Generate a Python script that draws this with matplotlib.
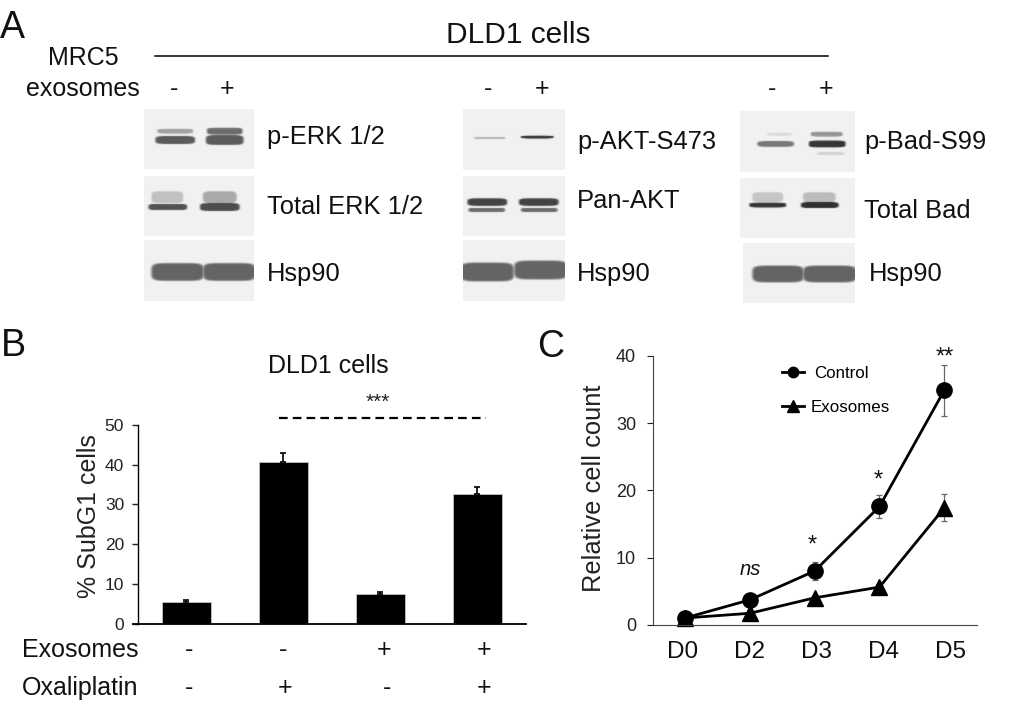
import numpy as np
import matplotlib
matplotlib.use("Agg")
import matplotlib.pyplot as plt

plt.rcParams['font.family'] = ['Liberation Sans', 'DejaVu Sans']

W, H = 1020, 706

# ---------- data ----------
conditions = ['ctrl', 'oxali', 'exo', 'exo+oxali']
subg1 = [5.5, 40.8, 7.4, 32.6]
subg1_err = [0.5, 2.2, 0.6, 1.8]
exosome_signs = ['-', '-', '+', '+']
oxaliplatin_signs = ['-', '+', '-', '+']

days = ['D0', 'D2', 'D3', 'D4', 'D5']
control = [1.0, 3.7, 8.0, 17.6, 34.9]
control_err = [0.2, 0.4, 1.3, 1.7, 3.8]
exosomes = [1.0, 1.7, 4.0, 5.6, 17.4]
exosomes_err = [0.1, 0.2, 0.3, 0.4, 2.0]

# Blot panels: (left, top, right, bottom)
# Bands: (x0, x1, y centre, half height, darkness)
blots = [
    ((144, 109, 254, 169), [(157, 193, 131, 2.5, .33), (155, 195, 140, 4, .62),
                            (207, 243, 131, 3.5, .55), (206, 244, 140, 5, .62)]),
    ((144, 176, 254, 236), [(151, 183, 197, 6, .2), (148, 187, 207, 3.2, .66),
                            (203, 237, 197, 6, .3), (200, 240, 207, 4, .68)]),
    ((144, 240, 254, 301), [(151, 204, 272, 9, .58), (203, 256, 272, 9, .58)]),
    ((463, 109, 565, 170), [(474, 505, 138, 1.2, .25), (521, 554, 137, 1.5, .8)]),
    ((463, 176, 565, 236), [(467, 507, 202, 3.8, .72), (468, 505, 210, 2.2, .55),
                            (519, 559, 202, 3.8, .72), (521, 558, 210, 2.2, .55)]),
    ((463, 240, 565, 301), [(460, 514, 272, 9.5, .58), (514, 568, 270, 9.5, .58)]),
    ((740, 111, 855, 172), [(767, 792, 134, 1.5, .1), (757, 794, 144, 2.8, .5),
                            (811, 843, 134, 2.5, .38), (809, 846, 144, 3.5, .78),
                            (817, 845, 154, 1.5, .13)]),
    ((740, 178, 855, 238), [(752, 783, 197, 5, .18), (749, 786, 205, 2.5, .78),
                            (803, 836, 197, 5, .22), (801, 839, 205, 3, .8)]),
    ((743, 243, 855, 303), [(752, 804, 274, 8.5, .58), (803, 857, 274, 8.5, .58)]),
]

# Text: (x, baseline y, string, size, horizontal alignment)
labels = [
    (0, 38, 'A', 27, 'left'), (1, 356, 'B', 27, 'left'), (537, 357, 'C', 27, 'left'),
    (518, 43, 'DLD1 cells', 21.5, 'center'),
    (48, 65, 'MRC5', 18, 'left'), (26, 96, 'exosomes', 18, 'left'),
    (174, 96, '-', 18, 'center'), (227, 96, '+', 18, 'center'),
    (488, 96, '-', 18, 'center'), (542, 96, '+', 18, 'center'),
    (772, 96, '-', 18, 'center'), (826, 96, '+', 18, 'center'),
    (267, 144, 'p-ERK 1/2', 18.4, 'left'), (267, 214, 'Total ERK 1/2', 18.4, 'left'),
    (267, 281, 'Hsp90', 18.4, 'left'),
    (577, 149, 'p-AKT-S473', 18.4, 'left'), (577, 208, 'Pan-AKT', 18.4, 'left'),
    (577, 281, 'Hsp90', 18.4, 'left'),
    (864, 149, 'p-Bad-S99', 18.4, 'left'), (864, 218, 'Total Bad', 18.4, 'left'),
    (869, 281, 'Hsp90', 18.4, 'left'),
    (328, 373, 'DLD1 cells', 18, 'center'),
    (22, 657, 'Exosomes', 18, 'left'), (22, 695, 'Oxaliplatin', 18, 'left'),
]
exo_sign_x = [189, 283, 384, 484]
oxa_sign_x = [189, 285, 387, 484]
day_label_x = [683, 750, 817, 884, 951]


def axes_px(fig, left, top, right, bottom):
    return fig.add_axes([left / W, 1 - bottom / H, (right - left) / W, (bottom - top) / H])


def blot_image(rect, bands):
    l, t, r, b = rect
    yy, xx = np.mgrid[t:b:complex(0, (b - t)), l:r:complex(0, (r - l))]
    dark = np.zeros_like(xx)
    for x0, x1, yc, hh, d in bands:
        cx, hw = (x0 + x1) / 2, (x1 - x0) / 2
        rad = np.sqrt(((xx - cx) / hw) ** 6 + ((yy - yc) / hh) ** 4)
        m = np.clip((1.2 - rad) / 0.4, 0, 1)
        dark = np.maximum(dark, m * d)
    k = np.array([.15, .7, .15])
    pad = np.pad(dark, 1, mode='edge')
    pad = np.apply_along_axis(lambda v: np.convolve(v, k, 'same'), 0, pad)
    pad = np.apply_along_axis(lambda v: np.convolve(v, k, 'same'), 1, pad)
    return 0.945 * (1 - pad[1:-1, 1:-1])


fig = plt.figure(figsize=(W / 100, H / 100), dpi=100, facecolor='white')

# Panel B
axb = axes_px(fig, 138, 425, 526, 623.5)
xb = np.arange(len(conditions))
axb.bar(xb, subg1, width=0.5, color='black', edgecolor='#c4c4c4', linewidth=0.6,
        yerr=[[0] * 4, subg1_err], error_kw=dict(ecolor='black', elinewidth=1.2, capsize=2.2, capthick=1.2))
axb.set_xlim(-0.5, 3.5)
axb.set_ylim(0, 50)
axb.set_yticks(range(0, 51, 10))
axb.set_xticks([])
axb.tick_params(axis='y', length=4, width=1, labelsize=12.5, pad=6, colors='#222222')
for s in ('top', 'right'):
    axb.spines[s].set_visible(False)
axb.spines['left'].set_linewidth(1)
axb.spines['bottom'].set_linewidth(1.3)
axb.spines['bottom'].set_bounds(-0.55, 3.5)
axb.set_ylabel('% SubG1 cells', fontsize=18, labelpad=3, color='#222222', y=0.5416)

# Panel C
axc = axes_px(fig, 652.7, 356, 976.7, 624.7)
xc = np.arange(len(days))
axc.errorbar(xc, control, yerr=control_err, color='black', lw=2, marker='o', ms=11,
             ecolor='#666666', elinewidth=0.9, capsize=2, capthick=0.9, label='Control', clip_on=False)
axc.errorbar(xc, exosomes, yerr=exosomes_err, color='black', lw=2, marker='^', ms=12,
             ecolor='#666666', elinewidth=0.9, capsize=2, capthick=0.9, label='Exosomes', clip_on=False)
axc.set_xlim(-0.5, 4.5)
axc.set_ylim(0, 40)
axc.set_yticks(range(0, 41, 10))
axc.set_xticks([])
axc.tick_params(axis='y', length=4.5, width=0.8, labelsize=13, pad=7.5, colors='#222222')
for s in ('top', 'right'):
    axc.spines[s].set_visible(False)
axc.spines['left'].set_color('#444444')
axc.spines['bottom'].set_color('#444444')
axc.set_ylabel('Relative cell count', fontsize=18.4, labelpad=7, color='#222222', y=0.509)
handles, names = axc.get_legend_handles_labels()
leg = axc.legend([h[0] for h in handles], names, frameon=False, fontsize=12.2,
                 loc='upper left', bbox_to_anchor=(0.369, 1.0), borderaxespad=0.17,
                 handlelength=1.33, handletextpad=0.34, labelspacing=1.12, markerscale=0.68)
leg.get_texts()[0].set_position((3.5, 0))

# Annotation / blot layer, in image pixels
ov = fig.add_axes([0, 0, 1, 1], zorder=5)
ov.patch.set_alpha(0)
for rect, bands in blots:
    l, t, r, b = rect
    ov.imshow(blot_image(rect, bands), extent=(l, r, b, t), cmap='gray', vmin=0, vmax=1,
              interpolation='bilinear', aspect='auto')
ov.set_xlim(0, W)
ov.set_ylim(H, 0)
ov.axis('off')

for x, y, s, size, ha in labels:
    ov.text(x, y, s, fontsize=size, ha=ha, va='baseline', color='#111111')
for x, s in zip(exo_sign_x, exosome_signs):
    ov.text(x, 657, s, fontsize=18, ha='center', va='baseline', color='#111111')
for x, s in zip(oxa_sign_x, oxaliplatin_signs):
    ov.text(x, 695, s, fontsize=18, ha='center', va='baseline', color='#111111')
for x, s in zip(day_label_x, days):
    ov.text(x, 658, s, fontsize=17.5, ha='center', va='baseline', color='#111111')

ov.plot([155, 828], [56, 56], color='black', lw=1.1)
ov.plot([279, 486], [418.3, 418.3], color='black', lw=1.6, dashes=(3.9, 2.3))
ov.text(378, 408, '***', fontsize=15, ha='center', va='baseline', color='#222222')
ov.text(750, 575, 'ns', fontsize=14.5, style='italic', ha='center', va='baseline', color='#111111')
ov.text(812, 552, '*', fontsize=17, ha='center', va='baseline', color='#111111')
ov.text(878, 487, '*', fontsize=17, ha='center', va='baseline', color='#111111')
ov.text(945, 364, '**', fontsize=17, ha='center', va='baseline', color='#111111')

fig.savefig('out.png', dpi=100)
